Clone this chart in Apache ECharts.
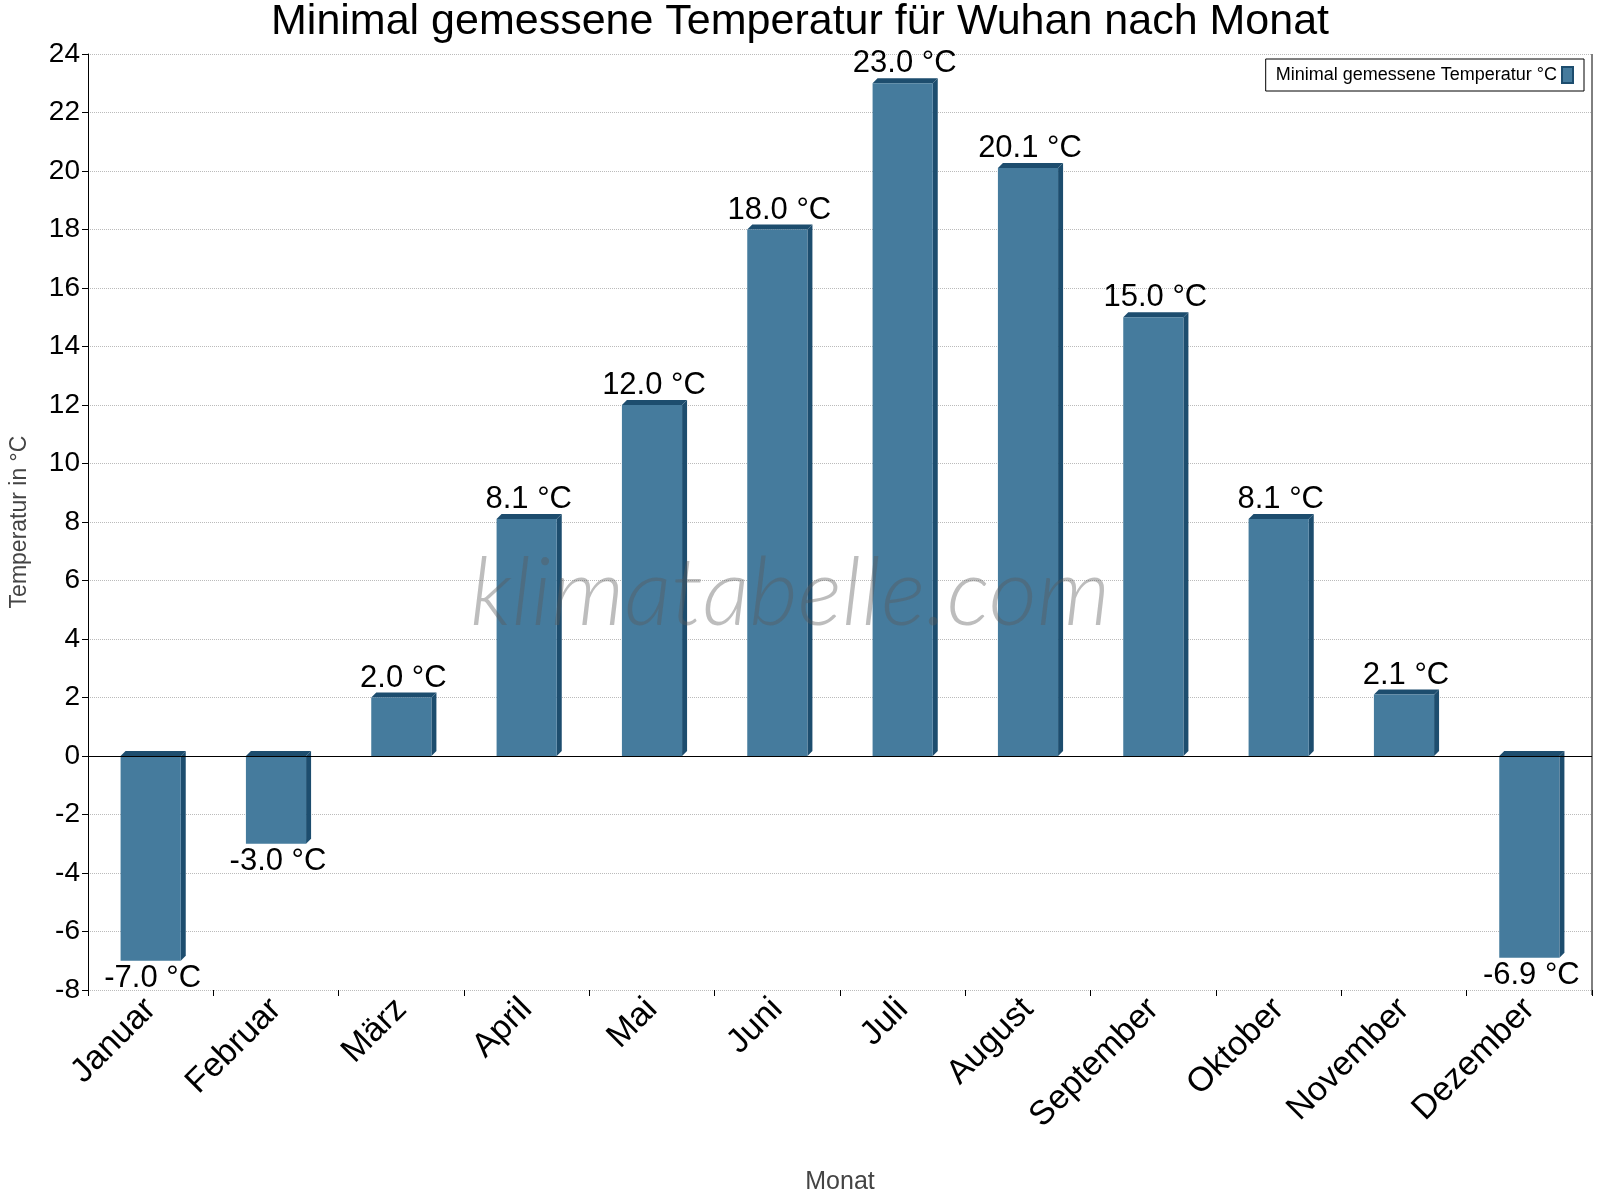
<!DOCTYPE html>
<html>
<head>
<meta charset="utf-8">
<script src="https://cdn.jsdelivr.net/npm/echarts@6/dist/echarts.min.js"></script>
<style>html,body{margin:0;padding:0;background:#fff}#chart{width:1600px;height:1200px}</style>
</head>
<body>
<div id="chart"></div>
<script>
var months = ['Januar','Februar','März','April','Mai','Juni','Juli','August','September','Oktober','November','Dezember'];
var minTemp = [-7.0,-3.0,2.0,8.1,12.0,18.0,23.0,20.1,15.0,8.1,2.1,-6.9];

var chart = echarts.init(document.getElementById('chart'));

function renderBar(params, api) {
    var i = api.value(0), v = api.value(1);
    var top = api.coord([i, v]), base = api.coord([i, 0]);
    var w = api.size([1, 0])[0] * 0.48, d = 5;
    var x0 = top[0] - w / 2, x1 = top[0] + w / 2;
    var yT = Math.min(top[1], base[1]), yB = Math.max(top[1], base[1]);
    var pos = v >= 0;
    return {
        type: 'group',
        children: [
            {type: 'polygon', shape: {points: [[x1, yT], [x1 + d, yT - d], [x1 + d, yB - d], [x1, yB]]}, style: {fill: '#1d4d6e'}},
            {type: 'polygon', shape: {points: [[x0, yT], [x0 + d, yT - d], [x1 + d, yT - d], [x1, yT]]}, style: {fill: '#1d4d6e'}},
            {type: 'rect', shape: {x: x0, y: yT, width: w, height: yB - yT}, style: {fill: '#457b9d'}},
            {type: 'text', x: top[0] + 2, y: pos ? top[1] - 4 : top[1] + 2,
             style: {text: v.toFixed(1) + ' °C', fill: '#000', font: '31px Liberation Sans, Arial',
                     align: 'center', verticalAlign: pos ? 'bottom' : 'top'}}
        ]
    };
}

var option = {
    animation: false,
    title: {
        text: 'Minimal gemessene Temperatur für Wuhan nach Monat',
        left: 'center', top: -4,
        textStyle: {fontSize: 43, fontWeight: 'normal', color: '#000', fontFamily: 'Liberation Sans'}
    },
    legend: {
        right: 16, top: 59,
        align: 'right',
        itemWidth: 11, itemHeight: 16,
        padding: [7, 10],
        borderColor: '#000', borderWidth: 1,
        textStyle: {fontSize: 18, color: '#000', fontFamily: 'Liberation Sans'},
        data: [{name: 'Minimal gemessene Temperatur °C', icon: 'rect', itemStyle: {color: '#457b9d', borderColor: '#1d4d6e', borderWidth: 2}}]
    },
    graphic: [
        {type: 'text', left: 470, top: 548, z: 10,
         style: {text: 'klimatabelle.com', font: 'italic 300 94px Lato, Liberation Sans', fill: 'rgba(90,90,90,0.4)'}},
        {type: 'line', shape: {x1: 1592, y1: 54, x2: 1592, y2: 995}, style: {stroke: '#000', lineWidth: 1}}
    ],
    grid: {left: 80, right: 8, top: 54, bottom: 205},
    xAxis: {
        type: 'category',
        data: months,
        name: 'Monat',
        nameLocation: 'middle',
        nameGap: 180,
        nameTextStyle: {fontSize: 25, color: '#444', fontFamily: 'Liberation Sans'},
        axisLine: {onZero: false, show: false},
        axisTick: {show: true, length: 6, lineStyle: {color: '#000'}},
        axisLabel: {rotate: 45, fontSize: 34, color: '#000', margin: 14, fontFamily: 'Liberation Sans'}
    },
    yAxis: {
        type: 'value',
        min: -8, max: 24, interval: 2,
        name: 'Temperatur in °C',
        nameLocation: 'middle',
        nameGap: 57,
        nameTextStyle: {fontSize: 23, color: '#444', fontFamily: 'Liberation Sans'},
        axisLine: {show: true, lineStyle: {color: '#000'}},
        axisTick: {show: true, length: 6, lineStyle: {color: '#000'}},
        axisLabel: {fontSize: 28, color: '#000', margin: 8, fontFamily: 'Liberation Sans'},
        splitLine: {lineStyle: {color: '#bbb', type: 'dotted'}}
    },
    series: [{
        name: 'Minimal gemessene Temperatur °C',
        type: 'custom',
        itemStyle: {color: '#457b9d'},
        renderItem: renderBar,
        encode: {x: 0, y: 1},
        data: minTemp.map(function (v, i) { return [i, v]; }),
        markLine: {
            silent: true, symbol: 'none', label: {show: false},
            lineStyle: {color: '#000', type: 'solid', width: 1},
            data: [{yAxis: 0}]
        }
    }]
};
chart.setOption(option);
</script>
</body>
</html>
